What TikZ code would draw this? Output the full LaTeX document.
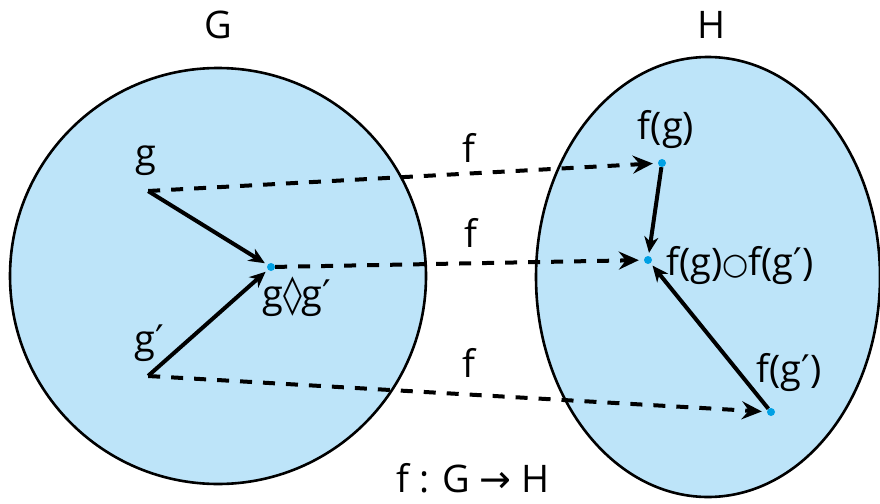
\documentclass[tikz,border=0pt]{standalone}
\usepackage{fontspec}
\setmainfont{Open Sans}
\newfontfamily\symfont{DejaVu Sans}
\usetikzlibrary{arrows.meta}
\definecolor{setblue}{RGB}{189,228,249}
\definecolor{dotblue}{RGB}{0,160,228}
\newcommand{\pr}{{\symfont\char"2032}}

\begin{document}
\begin{tikzpicture}[x=1pt,y=-1pt,
    set/.style={fill=setblue,draw=black,line width=2.6pt},
    dot/.style={circle,fill=dotblue,inner sep=0pt,minimum size=8pt},
    pt/.style={inner sep=0pt,minimum size=0pt},
    rel/.style={line width=4pt,-{Stealth[length=16pt,width=14pt,inset=5pt]},shorten >=3pt},
    map/.style={line width=4pt,dash pattern=on 12pt off 11pt,-{Stealth[length=20pt,width=18pt,inset=7pt]},shorten >=5pt},
    lbl/.style={font=\fontsize{38}{40}\selectfont,inner sep=0pt,anchor=base}]
  \useasboundingbox (0,0) rectangle (880,503);
  % the two groups
  \filldraw[set] (218,276) circle[radius=208];
  \filldraw[set] (708,277) ellipse[x radius=172,y radius=220];
  \node[lbl] (G) at (218,38) {G};
  \node[lbl] (H) at (712,38) {H};
  % elements of G
  \node[pt] (g) at (148,191) {};
  \node[pt] (g2) at (148,376) {};
  \node[dot] (gg) at (271,267) {};
  \node[lbl] (glbl) at (146,166) {g};
  \node[lbl] (g2lbl) at (149,352) {g\pr};
  \node[lbl,anchor=base west] (gglbl) at (262,307) {g{\symfont ◊}g\pr};
  % elements of H
  \node[dot] (fg) at (662,163) {};
  \node[dot] (fgg) at (648,260) {};
  \node[dot] (fg2) at (771,412) {};
  \node[lbl] (fglbl) at (666,139) {f(g)};
  \node[lbl,anchor=base west] (fgglbl) at (666,275) {f(g){\symfont\fontsize{30}{30}\selectfont\raisebox{1pt}{○}}f(g\pr)};
  \node[lbl] (fg2lbl) at (789,382) {f(g\pr)};
  % group operations
  \draw[rel] (g) -- (gg);
  \draw[rel] (g2) -- (gg);
  \draw[rel] (fg) -- (fgg);
  \draw[rel] (fg2) -- (fgg);
  % the map f
  \draw[map] (g) -- (fg);
  \draw[map] (gg) -- (fgg);
  \draw[map] (g2) -- (fg2);
  \node[lbl] (f1) at (469,162) {f};
  \node[lbl] (f2) at (471,247) {f};
  \node[lbl] (f3) at (469,377) {f};
  \node[lbl] (fmap) at (473,492) {f : G {\symfont →} H};
\end{tikzpicture}
\end{document}
